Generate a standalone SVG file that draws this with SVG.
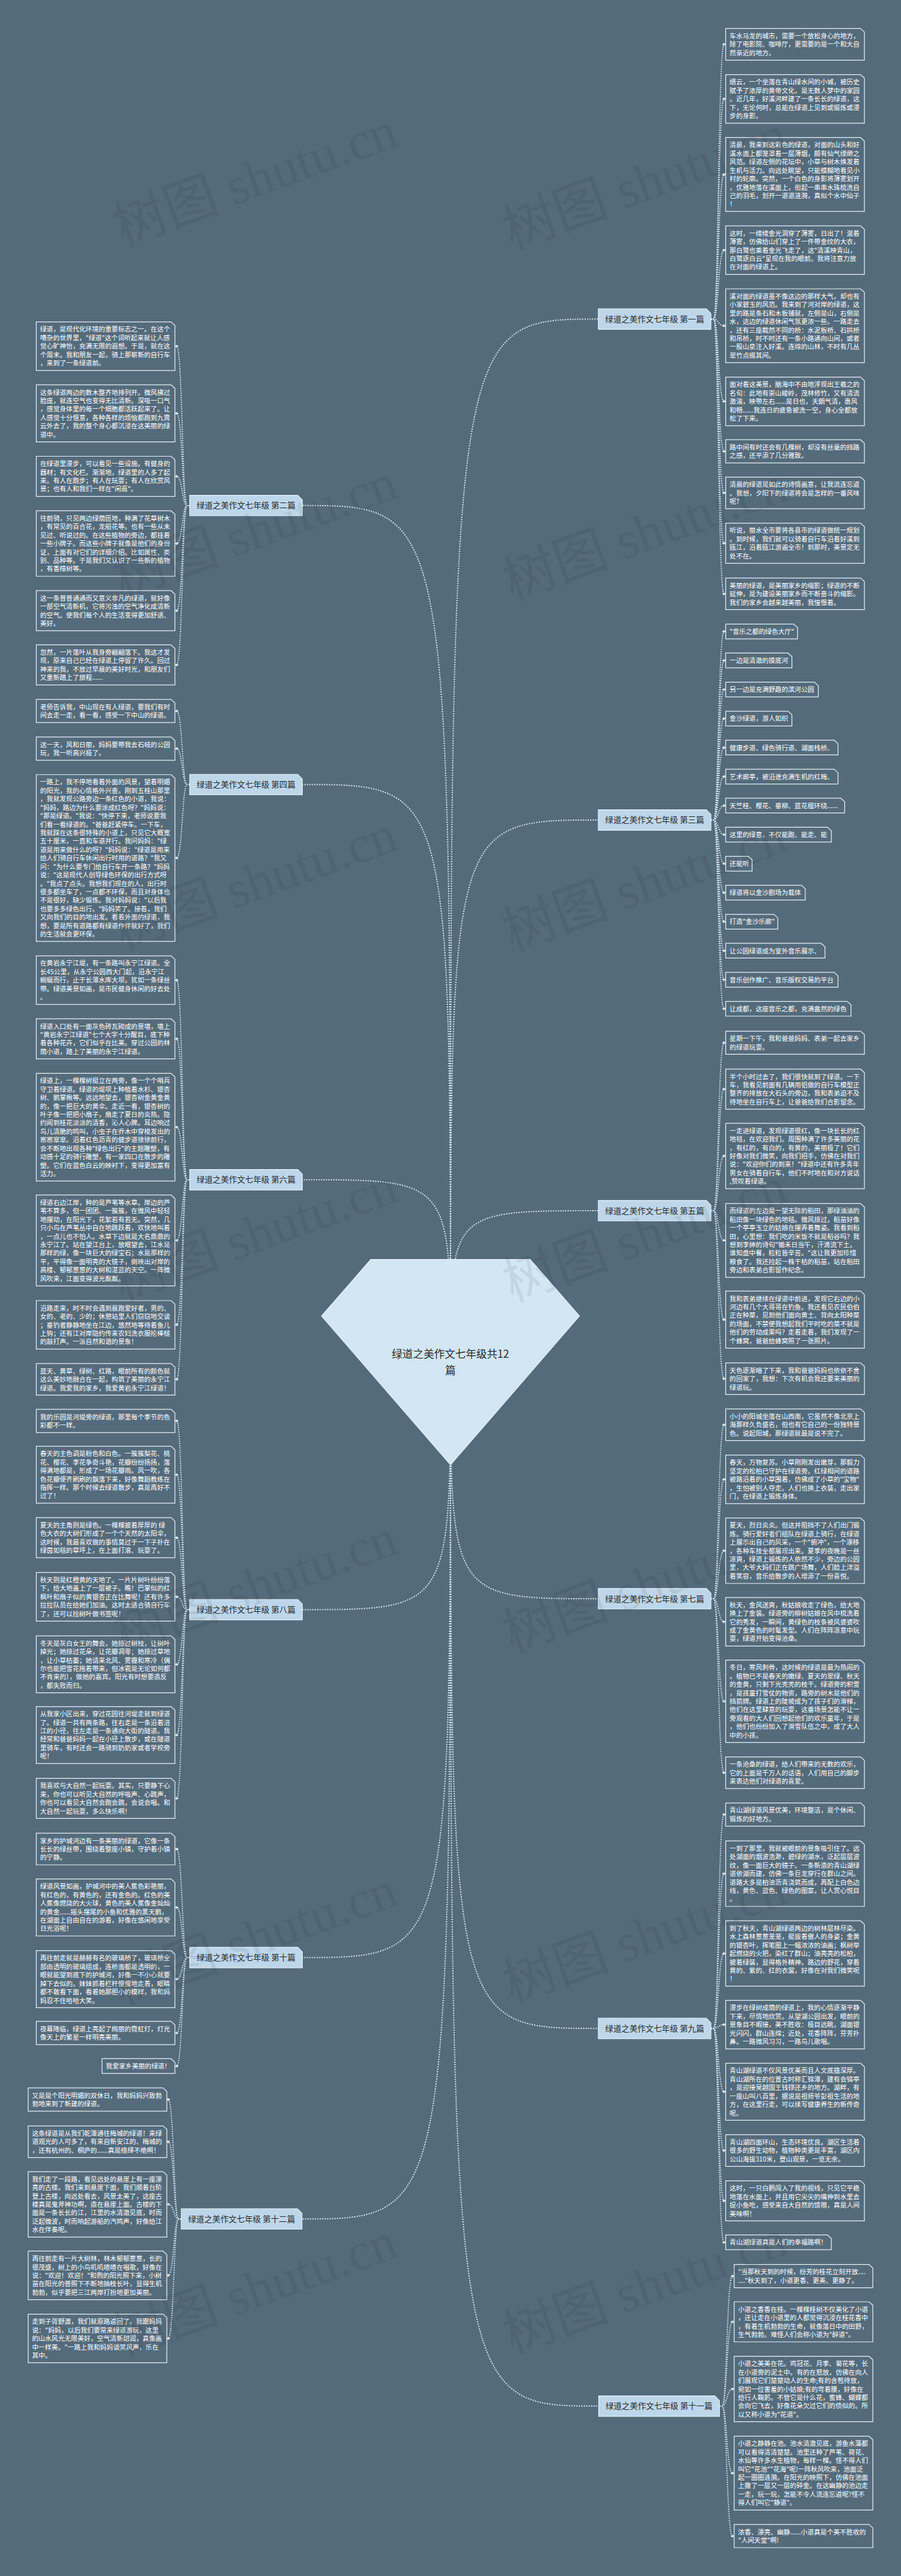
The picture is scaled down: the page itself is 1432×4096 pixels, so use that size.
<svg xmlns="http://www.w3.org/2000/svg" width="1432" height="4096" viewBox="0 0 1432 4096">
<defs>
<style>
.lf{fill:#546b7c;stroke:#e4edf3;stroke-width:2.2}
.t{font-family:"Noto Sans CJK SC","Noto Sans",sans-serif;font-size:18.5px;fill:#ffffff}
.br{fill:#bdd6ea;stroke:#e8f1f7;stroke-width:2}
.bt{font-family:"Noto Sans CJK SC","Noto Sans",sans-serif;font-size:23px;fill:#2a2a2a;text-anchor:middle}
.ck{fill:none;stroke:#d5e5f0;stroke-width:3.5;stroke-dasharray:3.5 3.5}
.lk{fill:none;stroke:#d5e5f0;stroke-width:3.2;stroke-dasharray:3.2 3.2;marker-end:url(#d)}
.wm{font-family:"Liberation Serif","Noto Sans CJK SC",serif;font-size:150px;fill:#000000;fill-opacity:0.065}
</style>
<marker id="d" markerUnits="userSpaceOnUse" markerWidth="12" markerHeight="10" refX="6" refY="5" orient="auto" viewBox="0 0 12 10"><path d="M0.5 5L6 1 11.5 5 6 9Z" fill="#dbe7ef"/></marker>
</defs>
<rect x="0" y="0" width="1432" height="4096" fill="#546b7c"/>
<g transform="scale(0.559375)">

<g id="connectors">
<path class="ck" d="M1280 3872C1280 907 1280 907 1700 907"/>
<path class="ck" d="M1280 3872C1280 2331 1280 2331 1700 2331"/>
<path class="ck" d="M1280 3872C1280 3441.5 1280 3441.5 1700 3441.5"/>
<path class="ck" d="M1280 3872C1280 4544.5 1280 4544.5 1700 4544.5"/>
<path class="ck" d="M1280 3872C1280 5766 1280 5766 1700 5766"/>
<path class="ck" d="M1280 3872C1280 6839.5 1280 6839.5 1701 6839.5"/>
<path class="ck" d="M1280 3872C1280 1437 1280 1437 859 1437"/>
<path class="ck" d="M1280 3872C1280 2230 1280 2230 859 2230"/>
<path class="ck" d="M1280 3872C1280 3353.5 1280 3353.5 859 3353.5"/>
<path class="ck" d="M1280 3872C1280 4575.5 1280 4575.5 859 4575.5"/>
<path class="ck" d="M1280 3872C1280 5564.5 1280 5564.5 859 5564.5"/>
<path class="ck" d="M1280 3872C1280 6307.5 1280 6307.5 858 6307.5"/>
<!-- sec1 -->
<path class="lk" d="M2020 907H2028C2041 907 2041 126 2057 126"/>
<path class="lk" d="M2020 907H2028C2041 907 2041 281 2057 281"/>
<path class="lk" d="M2020 907H2028C2041 907 2041 496 2057 496"/>
<path class="lk" d="M2020 907H2028C2041 907 2041 711 2057 711"/>
<path class="lk" d="M2020 907H2028C2041 907 2041 926 2057 926"/>
<path class="lk" d="M2020 907H2028C2041 907 2041 1141 2057 1141"/>
<path class="lk" d="M2020 907H2028C2041 907 2041 1283 2057 1283"/>
<path class="lk" d="M2020 907H2028C2041 907 2041 1401 2057 1401"/>
<path class="lk" d="M2020 907H2028C2041 907 2041 1544 2057 1544"/>
<path class="lk" d="M2020 907H2028C2041 907 2041 1688 2057 1688"/>
<!-- sec3 -->
<path class="lk" d="M2020 2331H2028C2041 2331 2041 1795 2057 1795"/>
<path class="lk" d="M2020 2331H2028C2041 2331 2041 1877.5 2057 1877.5"/>
<path class="lk" d="M2020 2331H2028C2041 2331 2041 1960 2057 1960"/>
<path class="lk" d="M2020 2331H2028C2041 2331 2041 2042.5 2057 2042.5"/>
<path class="lk" d="M2020 2331H2028C2041 2331 2041 2125 2057 2125"/>
<path class="lk" d="M2020 2331H2028C2041 2331 2041 2207.5 2057 2207.5"/>
<path class="lk" d="M2020 2331H2028C2041 2331 2041 2290 2057 2290"/>
<path class="lk" d="M2020 2331H2028C2041 2331 2041 2372.5 2057 2372.5"/>
<path class="lk" d="M2020 2331H2028C2041 2331 2041 2455 2057 2455"/>
<path class="lk" d="M2020 2331H2028C2041 2331 2041 2537.5 2057 2537.5"/>
<path class="lk" d="M2020 2331H2028C2041 2331 2041 2620 2057 2620"/>
<path class="lk" d="M2020 2331H2028C2041 2331 2041 2702.5 2057 2702.5"/>
<path class="lk" d="M2020 2331H2028C2041 2331 2041 2785 2057 2785"/>
<path class="lk" d="M2020 2331H2028C2041 2331 2041 2867.5 2057 2867.5"/>
<!-- sec5 -->
<path class="lk" d="M2020 3441.5H2028C2041 3441.5 2041 2964 2057 2964"/>
<path class="lk" d="M2020 3441.5H2028C2041 3441.5 2041 3096 2057 3096"/>
<path class="lk" d="M2020 3441.5H2028C2041 3441.5 2041 3286 2057 3286"/>
<path class="lk" d="M2020 3441.5H2028C2041 3441.5 2041 3526 2057 3526"/>
<path class="lk" d="M2020 3441.5H2028C2041 3441.5 2041 3751 2057 3751"/>
<path class="lk" d="M2020 3441.5H2028C2041 3441.5 2041 3919 2057 3919"/>
<!-- sec7 -->
<path class="lk" d="M2020 4544.5H2028C2041 4544.5 2041 4050 2057 4050"/>
<path class="lk" d="M2020 4544.5H2028C2041 4544.5 2041 4205 2057 4205"/>
<path class="lk" d="M2020 4544.5H2028C2041 4544.5 2041 4408 2057 4408"/>
<path class="lk" d="M2020 4544.5H2028C2041 4544.5 2041 4610 2057 4610"/>
<path class="lk" d="M2020 4544.5H2028C2041 4544.5 2041 4836 2057 4836"/>
<path class="lk" d="M2020 4544.5H2028C2041 4544.5 2041 5039 2057 5039"/>
<!-- sec9 -->
<path class="lk" d="M2020 5766H2028C2041 5766 2041 5158 2057 5158"/>
<path class="lk" d="M2020 5766H2028C2041 5766 2041 5326 2057 5326"/>
<path class="lk" d="M2020 5766H2028C2041 5766 2041 5553 2057 5553"/>
<path class="lk" d="M2020 5766H2028C2041 5766 2041 5755 2057 5755"/>
<path class="lk" d="M2020 5766H2028C2041 5766 2041 5946 2057 5946"/>
<path class="lk" d="M2020 5766H2028C2041 5766 2041 6113 2057 6113"/>
<path class="lk" d="M2020 5766H2028C2041 5766 2041 6256 2057 6256"/>
<path class="lk" d="M2020 5766H2028C2041 5766 2041 6374 2057 6374"/>
<!-- sec11 -->
<path class="lk" d="M2044 6839.5H2052C2065 6839.5 2065 6470 2081 6470"/>
<path class="lk" d="M2044 6839.5H2052C2065 6839.5 2065 6600 2081 6600"/>
<path class="lk" d="M2044 6839.5H2052C2065 6839.5 2065 6791 2081 6791"/>
<path class="lk" d="M2044 6839.5H2052C2065 6839.5 2065 7030 2081 7030"/>
<path class="lk" d="M2044 6839.5H2052C2065 6839.5 2065 7209 2081 7209"/>
<!-- sec2 -->
<path class="lk" d="M539 1437H531C518 1437 518 984 502 984"/>
<path class="lk" d="M539 1437H531C518 1437 518 1175 502 1175"/>
<path class="lk" d="M539 1437H531C518 1437 518 1354 502 1354"/>
<path class="lk" d="M539 1437H531C518 1437 518 1545 502 1545"/>
<path class="lk" d="M539 1437H531C518 1437 518 1736 502 1736"/>
<path class="lk" d="M539 1437H531C518 1437 518 1890 502 1890"/>
<!-- sec4 -->
<path class="lk" d="M539 2230H531C518 2230 518 2021 502 2021"/>
<path class="lk" d="M539 2230H531C518 2230 518 2128 502 2128"/>
<path class="lk" d="M539 2230H531C518 2230 518 2439 502 2439"/>
<!-- sec6 -->
<path class="lk" d="M539 3353.5H531C518 3353.5 518 2786 502 2786"/>
<path class="lk" d="M539 3353.5H531C518 3353.5 518 2953 502 2953"/>
<path class="lk" d="M539 3353.5H531C518 3353.5 518 3204 502 3204"/>
<path class="lk" d="M539 3353.5H531C518 3353.5 518 3526 502 3526"/>
<path class="lk" d="M539 3353.5H531C518 3353.5 518 3766 502 3766"/>
<path class="lk" d="M539 3353.5H531C518 3353.5 518 3921 502 3921"/>
<!-- sec8 -->
<path class="lk" d="M539 4575.5H531C518 4575.5 518 4039 502 4039"/>
<path class="lk" d="M539 4575.5H531C518 4575.5 518 4192 502 4192"/>
<path class="lk" d="M539 4575.5H531C518 4575.5 518 4371 502 4371"/>
<path class="lk" d="M539 4575.5H531C518 4575.5 518 4539 502 4539"/>
<path class="lk" d="M539 4575.5H531C518 4575.5 518 4731 502 4731"/>
<path class="lk" d="M539 4575.5H531C518 4575.5 518 4932 502 4932"/>
<path class="lk" d="M539 4575.5H531C518 4575.5 518 5112 502 5112"/>
<!-- sec10 -->
<path class="lk" d="M539 5564.5H531C518 5564.5 518 5256 502 5256"/>
<path class="lk" d="M539 5564.5H531C518 5564.5 518 5422 502 5422"/>
<path class="lk" d="M539 5564.5H531C518 5564.5 518 5626 502 5626"/>
<path class="lk" d="M539 5564.5H531C518 5564.5 518 5779 502 5779"/>
<path class="lk" d="M539 5564.5H531C518 5564.5 518 5873 502 5873"/>
<!-- sec12 -->
<path class="lk" d="M515 6307.5H507C494 6307.5 494 5968 478 5968"/>
<path class="lk" d="M515 6307.5H507C494 6307.5 494 6088 478 6088"/>
<path class="lk" d="M515 6307.5H507C494 6307.5 494 6266 478 6266"/>
<path class="lk" d="M515 6307.5H507C494 6307.5 494 6468 478 6468"/>
<path class="lk" d="M515 6307.5H507C494 6307.5 494 6647 478 6647"/>
</g>

<g id="center">
<path d="M1053.5 3580H1506.5L1646.5 3741L1280 4164L913.5 3741Z" fill="#d2e6f4" stroke="#eaf3fa" stroke-width="2"/>
<text class="bt" style="font-size:30px" x="1280" y="3860">绿道之美作文七年级共12</text>
<text class="bt" style="font-size:30px" x="1280" y="3906">篇</text>
</g>

<g id="b1"><path class="br" d="M1700 878H2007L2020 891V936H1700Z"/><text class="bt" x="1860" y="915">绿道之美作文七年级 第一篇</text></g>
<g id="b3"><path class="br" d="M1700 2302H2007L2020 2315V2360H1700Z"/><text class="bt" x="1860" y="2339">绿道之美作文七年级 第三篇</text></g>
<g id="b5"><path class="br" d="M1700 3412.5H2007L2020 3425.5V3470.5H1700Z"/><text class="bt" x="1860" y="3449.5">绿道之美作文七年级 第五篇</text></g>
<g id="b7"><path class="br" d="M1700 4515.5H2007L2020 4528.5V4573.5H1700Z"/><text class="bt" x="1860" y="4552.5">绿道之美作文七年级 第七篇</text></g>
<g id="b9"><path class="br" d="M1700 5737H2007L2020 5750V5795H1700Z"/><text class="bt" x="1860" y="5774">绿道之美作文七年级 第九篇</text></g>
<g id="b11"><path class="br" d="M1701 6810.5H2031L2044 6823.5V6868.5H1701Z"/><text class="bt" x="1872.5" y="6847.5">绿道之美作文七年级 第十一篇</text></g>
<g id="b2"><path class="br" d="M539 1408H846L859 1421V1466H539Z"/><text class="bt" x="699" y="1445">绿道之美作文七年级 第二篇</text></g>
<g id="b4"><path class="br" d="M539 2201H846L859 2214V2259H539Z"/><text class="bt" x="699" y="2238">绿道之美作文七年级 第四篇</text></g>
<g id="b6"><path class="br" d="M539 3324.5H846L859 3337.5V3382.5H539Z"/><text class="bt" x="699" y="3361.5">绿道之美作文七年级 第六篇</text></g>
<g id="b8"><path class="br" d="M539 4546.5H846L859 4559.5V4604.5H539Z"/><text class="bt" x="699" y="4583.5">绿道之美作文七年级 第八篇</text></g>
<g id="b10"><path class="br" d="M539 5535.5H846L859 5548.5V5593.5H539Z"/><text class="bt" x="699" y="5572.5">绿道之美作文七年级 第十篇</text></g>
<g id="b12"><path class="br" d="M515 6278.5H845L858 6291.5V6336.5H515Z"/><text class="bt" x="686.5" y="6315.5">绿道之美作文七年级 第十二篇</text></g>

<!-- Section 1 -->
<g id="s1a"><path class="lf" d="M2062 81H2445L2456 91V171H2062Z"/><text class="t" x="2073" y="109"><tspan>车水马龙的城市，需要一个放松身心的地方，</tspan><tspan x="2073" dy="24">除了电影院、咖啡厅，更需要的是一个和大自</tspan><tspan x="2073" dy="24">然亲近的地方。</tspan></text></g>
<g id="s1b"><path class="lf" d="M2062 212H2445L2456 222V350H2062Z"/><text class="t" x="2073" y="240"><tspan>缙云，一个坐落在青山绿水间的小城，被历史</tspan><tspan x="2073" dy="24">赋予了浓厚的黄帝文化，是无数人梦中的家园</tspan><tspan x="2073" dy="24">。近几年，好溪河畔建了一条长长的绿道，这</tspan><tspan x="2073" dy="24">下，无论何时，总能在绿道上见到或锻炼或漫</tspan><tspan x="2073" dy="24">步的身影。</tspan></text></g>
<g id="s1c"><path class="lf" d="M2062 391H2445L2456 401V601H2062Z"/><text class="t" x="2073" y="419"><tspan>清晨，我来到这彩色的绿道，对面的山头和好</tspan><tspan x="2073" dy="24">溪水面上都笼罩着一层薄烟，颇有仙气缥缈之</tspan><tspan x="2073" dy="24">风范。绿道左侧的花坛中，小草与树木焕发着</tspan><tspan x="2073" dy="24">生机与活力。向远处眺望，只能模糊地看见小</tspan><tspan x="2073" dy="24">村的轮廓。突然，一个白色的身影将薄雾划开</tspan><tspan x="2073" dy="24">，优雅地落在溪面上，衔起一串串水珠梳洗自</tspan><tspan x="2073" dy="24">己的羽毛，划开一道道涟漪，真似个水中仙子</tspan><tspan x="2073" dy="24">！</tspan></text></g>
<g id="s1d"><path class="lf" d="M2062 642H2445L2456 652V780H2062Z"/><text class="t" x="2073" y="670"><tspan>这时，一缕缕金光洞穿了薄雾，日出了！混着</tspan><tspan x="2073" dy="24">薄雾，仿佛给山们穿上了一件带金纹的大衣，</tspan><tspan x="2073" dy="24">那白鹭也乘着金光飞走了，这"清溪映青山，</tspan><tspan x="2073" dy="24">白鹭逐白云"呈现在我的眼前。我将注意力放</tspan><tspan x="2073" dy="24">在对面的绿道上。</tspan></text></g>
<g id="s1e"><path class="lf" d="M2062 821H2445L2456 831V1031H2062Z"/><text class="t" x="2073" y="849"><tspan>溪对面的绿道虽不像这边的那样大气，却也有</tspan><tspan x="2073" dy="24">小家碧玉的风范。我来到了河对岸的绿道，这</tspan><tspan x="2073" dy="24">里的路是条石和木板铺就，左侧是山，右侧是</tspan><tspan x="2073" dy="24">水，这边的绿道休闲气氛更浓一些。一路走去</tspan><tspan x="2073" dy="24">，还有三座截然不同的桥：水泥板桥、石拱桥</tspan><tspan x="2073" dy="24">和吊桥，时不时还有一条小路通向山间，或者</tspan><tspan x="2073" dy="24">一股山泉注入好溪。连绵的山林，不时有几丛</tspan><tspan x="2073" dy="24">翠竹点缀其间。</tspan></text></g>
<g id="s1f"><path class="lf" d="M2062 1072H2445L2456 1082V1210H2062Z"/><text class="t" x="2073" y="1100"><tspan>面对着这美景，脑海中不由地浮现出王羲之的</tspan><tspan x="2073" dy="24">名句：此地有崇山峻岭，茂林修竹，又有清流</tspan><tspan x="2073" dy="24">激湍，映带左右......是日也，天朗气清，惠风</tspan><tspan x="2073" dy="24">和畅......我连日的疲惫被洗一空，身心全都放</tspan><tspan x="2073" dy="24">松了下来。</tspan></text></g>
<g id="s1g"><path class="lf" d="M2062 1250H2445L2456 1260V1316H2062Z"/><text class="t" x="2073" y="1278"><tspan>路中间有时还会有几棵树，却没有丝毫的挡路</tspan><tspan x="2073" dy="24">之感，还平添了几分雅致。</tspan></text></g>
<g id="s1h"><path class="lf" d="M2062 1356H2445L2456 1366V1446H2062Z"/><text class="t" x="2073" y="1384"><tspan>清晨的绿道是如此的诗情画意，让我流连忘返</tspan><tspan x="2073" dy="24">。我想，夕阳下的绿道将会是怎样的一番风味</tspan><tspan x="2073" dy="24">呢?</tspan></text></g>
<g id="s1i"><path class="lf" d="M2062 1487H2445L2456 1497V1601H2062Z"/><text class="t" x="2073" y="1515"><tspan>听说，丽水全市要将各县市的绿道做统一规划</tspan><tspan x="2073" dy="24">。到时候，我们就可以骑着自行车沿着好溪到</tspan><tspan x="2073" dy="24">瓯江，沿着瓯江游遍全市！到那时，美景定无</tspan><tspan x="2073" dy="24">处不在。</tspan></text></g>
<g id="s1j"><path class="lf" d="M2062 1643H2445L2456 1653V1733H2062Z"/><text class="t" x="2073" y="1671"><tspan>美丽的绿道，是美丽家乡的缩影；绿道的不断</tspan><tspan x="2073" dy="24">延伸，是为建设美丽家乡而不断奋斗的缩影。</tspan><tspan x="2073" dy="24">我们的家乡会越来越美丽，我憧憬着。</tspan></text></g>

<!-- Section 3 -->
<g id="s3a"><path class="lf" d="M2062 1774H2255L2266 1784V1816H2062Z"/><text class="t" x="2073" y="1802">"音乐之都的绿色大厅"</text></g>
<g id="s3b"><path class="lf" d="M2062 1856.5H2239L2250 1866.5V1898.5H2062Z"/><text class="t" x="2073" y="1884.5">一边是清澈的摸底河</text></g>
<g id="s3c"><path class="lf" d="M2062 1939H2314L2325 1949V1981H2062Z"/><text class="t" x="2073" y="1967">另一边是充满野趣的滨河公园</text></g>
<g id="s3d"><path class="lf" d="M2062 2021.5H2239L2250 2031.5V2063.5H2062Z"/><text class="t" x="2073" y="2049.5">金沙绿道，游人如织</text></g>
<g id="s3e"><path class="lf" d="M2062 2104H2370L2381 2114V2146H2062Z"/><text class="t" x="2073" y="2132">健康步道、绿色骑行道、湖面栈桥、</text></g>
<g id="s3f"><path class="lf" d="M2062 2186.5H2370L2381 2196.5V2228.5H2062Z"/><text class="t" x="2073" y="2214.5">艺术廊亭，被沿途充满生机的红梅、</text></g>
<g id="s3g"><path class="lf" d="M2062 2269H2389L2400 2279V2311H2062Z"/><text class="t" x="2073" y="2297">天竺桂、樱花、垂柳、蓝花楹环绕......</text></g>
<g id="s3h"><path class="lf" d="M2062 2351.5H2351L2362 2361.5V2393.5H2062Z"/><text class="t" x="2073" y="2379.5">这里的绿意，不仅能跑、能走、能</text></g>
<g id="s3i"><path class="lf" d="M2062 2434H2126L2137 2444V2476H2062Z"/><text class="t" x="2073" y="2462">还能听</text></g>
<g id="s3j"><path class="lf" d="M2062 2516.5H2277L2288 2526.5V2558.5H2062Z"/><text class="t" x="2073" y="2544.5">绿道将以金沙剧场为载体</text></g>
<g id="s3k"><path class="lf" d="M2062 2599H2199L2210 2609V2641H2062Z"/><text class="t" x="2073" y="2627">打造"金沙乐廊"</text></g>
<g id="s3l"><path class="lf" d="M2062 2681.5H2333L2344 2691.5V2723.5H2062Z"/><text class="t" x="2073" y="2709.5">让公园绿道成为室外音乐展示、</text></g>
<g id="s3m"><path class="lf" d="M2062 2764H2370L2381 2774V2806H2062Z"/><text class="t" x="2073" y="2792">音乐创作推广、音乐版权交易的平台</text></g>
<g id="s3n"><path class="lf" d="M2062 2846.5H2407L2418 2856.5V2888.5H2062Z"/><text class="t" x="2073" y="2874.5">让成都，这座音乐之都，充满盎然的绿色</text></g>

<!-- Section 5 -->
<g id="s5a"><path class="lf" d="M2062 2931H2445L2456 2941V2997H2062Z"/><text class="t" x="2073" y="2959"><tspan>星期一下午，我和爸爸妈妈、表弟一起去家乡</tspan><tspan x="2073" dy="24">的绿道玩耍。</tspan></text></g>
<g id="s5b"><path class="lf" d="M2062 3039H2445L2456 3049V3153H2062Z"/><text class="t" x="2073" y="3067"><tspan>半个小时过去了，我们很快就到了绿道。一下</tspan><tspan x="2073" dy="24">车，我看见前面有几辆用铝做的自行车模型正</tspan><tspan x="2073" dy="24">整齐的排放在大石头的旁边，我和表弟迫不及</tspan><tspan x="2073" dy="24">待地坐在自行车上，让爸爸给我们合影留念。</tspan></text></g>
<g id="s5c"><path class="lf" d="M2062 3193H2445L2456 3203V3379H2062Z"/><text class="t" x="2073" y="3221"><tspan>一走进绿道，发现绿道很红，像一块长长的红</tspan><tspan x="2073" dy="24">地毯，在欢迎我们。周围种满了许多美丽的花</tspan><tspan x="2073" dy="24">，有红的，有白的，有黄的，美丽极了！它们</tspan><tspan x="2073" dy="24">好像对我们微笑，向我们招手，仿佛在对我们</tspan><tspan x="2073" dy="24">说："欢迎你们的到来！"绿道中还有许多青年</tspan><tspan x="2073" dy="24">男女在骑着自行车，他们不时地在和对方说话</tspan><tspan x="2073" dy="24">,赞叹着绿道。</tspan></text></g>
<g id="s5d"><path class="lf" d="M2062 3421H2445L2456 3431V3631H2062Z"/><text class="t" x="2073" y="3449"><tspan>而绿道的左边是一望无际的稻田，那绿油油的</tspan><tspan x="2073" dy="24">稻田像一块绿色的地毯。微风掠过，稻苗好像</tspan><tspan x="2073" dy="24">一个亭亭玉立的姑娘在摆弄着舞姿。我看到稻</tspan><tspan x="2073" dy="24">田，心里想：我们吃的米饭不就是稻谷吗？我</tspan><tspan x="2073" dy="24">想到李绅的诗句"锄禾日当午，汗滴流下土。</tspan><tspan x="2073" dy="24">谁知盘中餐，粒粒皆辛苦。"这让我更加珍惜</tspan><tspan x="2073" dy="24">粮食了。我还捡起一株干枯的稻苗，站在稻田</tspan><tspan x="2073" dy="24">旁边和表弟合影留作纪念。</tspan></text></g>
<g id="s5e"><path class="lf" d="M2062 3670H2445L2456 3680V3832H2062Z"/><text class="t" x="2073" y="3698"><tspan>我和表弟继续在绿道中前进，发现它右边的小</tspan><tspan x="2073" dy="24">河边有几个大哥哥在钓鱼。我还看见农民伯伯</tspan><tspan x="2073" dy="24">正在种菜，见到他们面向黄土、背向太阳种菜</tspan><tspan x="2073" dy="24">的场面，不禁使我想起我们平时吃的菜不就是</tspan><tspan x="2073" dy="24">他们的劳动成果吗？走着走着，我们发现了一</tspan><tspan x="2073" dy="24">个蜂窝，爸爸给蜂窝照了一张照片。</tspan></text></g>
<g id="s5f"><path class="lf" d="M2062 3874H2445L2456 3884V3964H2062Z"/><text class="t" x="2073" y="3902"><tspan>天色逐渐暗了下来，我和爸爸妈妈也依依不舍</tspan><tspan x="2073" dy="24">的回家了，我想：下次有机会我还要来美丽的</tspan><tspan x="2073" dy="24">绿道玩。</tspan></text></g>

<!-- Section 7 -->
<g id="s7a"><path class="lf" d="M2062 4005H2445L2456 4015V4095H2062Z"/><text class="t" x="2073" y="4033"><tspan>小小的阳城坐落在山西南，它虽然不像北京上</tspan><tspan x="2073" dy="24">海那样久负盛名，但也有它自己的一份独特景</tspan><tspan x="2073" dy="24">色。说起阳城，那绿道就最是说不完了。</tspan></text></g>
<g id="s7b"><path class="lf" d="M2062 4136H2445L2456 4146V4274H2062Z"/><text class="t" x="2073" y="4164"><tspan>春天，万物复苏。小草刚刚发出嫩芽，那毅力</tspan><tspan x="2073" dy="24">坚定的松柏已守护在绿道旁。红绿相间的道路</tspan><tspan x="2073" dy="24">被路沿着的小草围着，仿佛成了小草的"宝物"</tspan><tspan x="2073" dy="24">，生怕被别人夺走。人们也换上衣装，走出家</tspan><tspan x="2073" dy="24">门，在绿道上锻炼身体。</tspan></text></g>
<g id="s7c"><path class="lf" d="M2062 4315H2445L2456 4325V4501H2062Z"/><text class="t" x="2073" y="4343"><tspan>夏天，烈日炎炎。但这并阻挡不了人们出门锻</tspan><tspan x="2073" dy="24">炼。骑行爱好者们组队在绿道上骑行，在绿道</tspan><tspan x="2073" dy="24">上展示出自己的风采，一个"俯冲"，一个漂移</tspan><tspan x="2073" dy="24">，各种车技全都展现出来。夏季的夜晚是一丝</tspan><tspan x="2073" dy="24">凉爽，绿道上锻炼的人依然不少，旁边的公园</tspan><tspan x="2073" dy="24">里，大爷大妈们正在跳广场舞，人们脸上洋溢</tspan><tspan x="2073" dy="24">着笑容，音乐给散步的人增添了一份喜悦。</tspan></text></g>
<g id="s7d"><path class="lf" d="M2062 4541H2445L2456 4551V4679H2062Z"/><text class="t" x="2073" y="4569"><tspan>秋天，金风送爽，秋姑娘收走了绿色，给大地</tspan><tspan x="2073" dy="24">换上了金装。绿道旁的柳树姑娘在风中梳洗着</tspan><tspan x="2073" dy="24">它的秀发，一瞬间，黄绿色的枝条被风婆婆吹</tspan><tspan x="2073" dy="24">成了金黄色的时髦发型。人们在阵阵凉意中玩</tspan><tspan x="2073" dy="24">耍，绿道开始变得沧桑。</tspan></text></g>
<g id="s7e"><path class="lf" d="M2062 4719H2445L2456 4729V4953H2062Z"/><text class="t" x="2073" y="4747"><tspan>冬日，寒风刺骨，这时候的绿道是最为热闹的</tspan><tspan x="2073" dy="24">。植物已不是春天的嫩绿、夏天的翠绿、秋天</tspan><tspan x="2073" dy="24">的金黄，只剩下光秃秃的枝干。绿道旁的积雪</tspan><tspan x="2073" dy="24">，是孩童打雪仗的物资，路旁的树木是他们的</tspan><tspan x="2073" dy="24">挡箭牌。绿道上的陡坡成为了孩子们的滑梯，</tspan><tspan x="2073" dy="24">他们在这里肆意的玩耍，这番场景怎能不让一</tspan><tspan x="2073" dy="24">旁观看的大人们回想起他们的欢乐童年，于是</tspan><tspan x="2073" dy="24">，他们也纷纷加入了滑雪队伍之中，成了大人</tspan><tspan x="2073" dy="24">中的小孩。</tspan></text></g>
<g id="s7f"><path class="lf" d="M2062 4994H2445L2456 5004V5084H2062Z"/><text class="t" x="2073" y="5022"><tspan>一条沧桑的绿道，给人们带来的无数的欢乐，</tspan><tspan x="2073" dy="24">它的上面是千万人的话语，人们用自己的脚步</tspan><tspan x="2073" dy="24">来表达他们对绿道的喜爱。</tspan></text></g>

<!-- Section 9 -->
<g id="s9a"><path class="lf" d="M2062 5125H2445L2456 5135V5191H2062Z"/><text class="t" x="2073" y="5153"><tspan>青山湖绿道风景优美，环境整洁，是个休闲、</tspan><tspan x="2073" dy="24">锻炼的好地方。</tspan></text></g>
<g id="s9b"><path class="lf" d="M2062 5233H2445L2456 5243V5419H2062Z"/><text class="t" x="2073" y="5261"><tspan>一到了那里，我就被眼前的景象吸引住了。远</tspan><tspan x="2073" dy="24">处湖面的烟波浩渺，碧绿的湖水，泛起层层波</tspan><tspan x="2073" dy="24">纹，像一面巨大的镜子。一条新造的青山湖绿</tspan><tspan x="2073" dy="24">道依湖而建，仿佛一条巨龙穿行在群山之间。</tspan><tspan x="2073" dy="24">道路大多是柏油沥青浇筑而成，再配上白色边</tspan><tspan x="2073" dy="24">线，黄色、蓝色、绿色的图案，让人赏心悦目</tspan><tspan x="2073" dy="24">。</tspan></text></g>
<g id="s9c"><path class="lf" d="M2062 5460H2445L2456 5470V5646H2062Z"/><text class="t" x="2073" y="5488"><tspan>到了秋天，青山湖绿道两边的树林层林尽染。</tspan><tspan x="2073" dy="24">水上森林葱葱茏茏，挺拔着傲人的身姿；金黄</tspan><tspan x="2073" dy="24">的银杏叶，挥笔图上一幅浓浓的油画；枫树举</tspan><tspan x="2073" dy="24">起燃烧的火把，染红了群山；油亮亮的松柏，</tspan><tspan x="2073" dy="24">披着绿装，显得格外精神。路边的野花，穿着</tspan><tspan x="2073" dy="24">黄的、紫的、红的衣裳，好像在对我们微笑呢</tspan><tspan x="2073" dy="24">！</tspan></text></g>
<g id="s9d"><path class="lf" d="M2062 5686H2445L2456 5696V5824H2062Z"/><text class="t" x="2073" y="5714"><tspan>漫步在绿树成荫的绿道上，我的心情逐渐平静</tspan><tspan x="2073" dy="24">下来，尽情地欣赏。从望湖公园出发，眼前的</tspan><tspan x="2073" dy="24">景象目不暇接，美不胜收：极目远眺，湖面银</tspan><tspan x="2073" dy="24">光闪闪，群山连绵；近处，花香阵阵，芬芳扑</tspan><tspan x="2073" dy="24">鼻。一路微风习习，一路鸟儿歌唱。</tspan></text></g>
<g id="s9e"><path class="lf" d="M2062 5865H2445L2456 5875V6027H2062Z"/><text class="t" x="2073" y="5893"><tspan>青山湖绿道不仅风景优美而且人文底蕴深厚。</tspan><tspan x="2073" dy="24">青山湖所在的位置古时称汇锦潭，建有会锦亭</tspan><tspan x="2073" dy="24">，是迎接吴越国王钱镠还乡的地方。湖畔，有</tspan><tspan x="2073" dy="24">一座山叫八百里，据说是祖师爷彭祖生活的地</tspan><tspan x="2073" dy="24">方，在这里行走，可以续写健康养生的新传奇</tspan><tspan x="2073" dy="24">呢。</tspan></text></g>
<g id="s9f"><path class="lf" d="M2062 6068H2445L2456 6078V6158H2062Z"/><text class="t" x="2073" y="6096"><tspan>青山湖四面环山，生态环境优良。湖区生活着</tspan><tspan x="2073" dy="24">很多的野生动物，植物种类更是丰富，湖区内</tspan><tspan x="2073" dy="24">公山海拔310米，登山观景，一览无余。</tspan></text></g>
<g id="s9g"><path class="lf" d="M2062 6199H2445L2456 6209V6313H2062Z"/><text class="t" x="2073" y="6227"><tspan>这时，一只白鹳闯入了我的视线，只见它平稳</tspan><tspan x="2073" dy="24">地落在水面上，并且用它尖尖的嘴伸到水里去</tspan><tspan x="2073" dy="24">捉小鱼吃，感受来自大自然的馈赠，真是人间</tspan><tspan x="2073" dy="24">美味啊！</tspan></text></g>
<g id="s9h"><path class="lf" d="M2062 6353H2351L2362 6363V6395H2062Z"/><text class="t" x="2073" y="6381">青山湖绿道真是人们的幸福路啊！</text></g>

<!-- Section 11 -->
<g id="s11a"><path class="lf" d="M2086 6437H2469L2480 6447V6503H2086Z"/><text class="t" x="2097" y="6465"><tspan>"当那秋天到的时候，纷芳的桂花立刻开放....</tspan><tspan x="2097" dy="24">...."秋天到了，小道更香、更美、更静了。</tspan></text></g>
<g id="s11b"><path class="lf" d="M2086 6543H2469L2480 6553V6657H2086Z"/><text class="t" x="2097" y="6571"><tspan>小道之香香在桂。一棵棵桂树不仅美化了小道</tspan><tspan x="2097" dy="24">，还让走在小道里的人都觉得沉浸在桂花香中</tspan><tspan x="2097" dy="24">，有着生机勃勃的生命，就像落日中的田野，</tspan><tspan x="2097" dy="24">生气勃勃。难怪人们会称小道为"醉道"。</tspan></text></g>
<g id="s11c"><path class="lf" d="M2086 6698H2469L2480 6708V6884H2086Z"/><text class="t" x="2097" y="6726"><tspan>小道之美美在花。鸡冠花、月季、菊花等，长</tspan><tspan x="2097" dy="24">在小道旁的泥土中。有的在怒放，仿佛在向人</tspan><tspan x="2097" dy="24">们展现它们楚楚动人的生命;有的含苞待放，</tspan><tspan x="2097" dy="24">宛如一位害羞的小姑娘;有的弯着腰，好像在</tspan><tspan x="2097" dy="24">给行人鞠躬。不管它是什么花，蜜蜂、蝴蝶都</tspan><tspan x="2097" dy="24">会向它飞去，好像花朵欠过它们的债似的。所</tspan><tspan x="2097" dy="24">以又称小道为"花道"。</tspan></text></g>
<g id="s11d"><path class="lf" d="M2086 6925H2469L2480 6935V7135H2086Z"/><text class="t" x="2097" y="6953"><tspan>小道之静静在池。池水清澈见底，游鱼水藻都</tspan><tspan x="2097" dy="24">可以看得清清楚楚。池里还种了芦苇、荷花、</tspan><tspan x="2097" dy="24">水仙等许多水生植物，每样一棵。怪不得人们</tspan><tspan x="2097" dy="24">叫它"花池""花海"呢!一阵秋风吹来，池面泛</tspan><tspan x="2097" dy="24">起一圈圈涟漪。在阳光的映照下，仿佛在池面</tspan><tspan x="2097" dy="24">上撒了一层又一层的碎金。在这幽静的池边走</tspan><tspan x="2097" dy="24">一走，玩一玩，怎能不令人流连忘返呢?怪不</tspan><tspan x="2097" dy="24">得人们叫它"静道"。</tspan></text></g>
<g id="s11e"><path class="lf" d="M2086 7176H2469L2480 7186V7242H2086Z"/><text class="t" x="2097" y="7204"><tspan>浓香、漂亮、幽静......小道真是个美不胜收的</tspan><tspan x="2097" dy="24">"人间天堂"啊!</tspan></text></g>

<!-- Section 2 -->
<g id="s2a"><path class="lf" d="M103 915H486L497 925V1053H103Z"/><text class="t" x="114" y="943"><tspan>绿道，是现代化环境的重要标志之一。在这个</tspan><tspan x="114" dy="24">嘈杂的世界里，"绿道"这个词听起来就让人感</tspan><tspan x="114" dy="24">觉心旷神怡，充满无限的遐想。于是，就在这</tspan><tspan x="114" dy="24">个周末。我和朋友一起，骑上那崭新的自行车</tspan><tspan x="114" dy="24">，来到了一条绿道前。</tspan></text></g>
<g id="s2b"><path class="lf" d="M103 1094H486L497 1104V1256H103Z"/><text class="t" x="114" y="1122"><tspan>这条绿道两边的数木整齐地排列开。微风拂过</tspan><tspan x="114" dy="24">脸庞，就连空气也变得无比清新。深吸一口气</tspan><tspan x="114" dy="24">，感觉身体里的每一个细胞都活跃起来了。让</tspan><tspan x="114" dy="24">人感觉十分惬意，各种各样的烦恼都跑到九霄</tspan><tspan x="114" dy="24">云外去了，我的整个身心都沉浸在这美丽的绿</tspan><tspan x="114" dy="24">道中。</tspan></text></g>
<g id="s2c"><path class="lf" d="M103 1297H486L497 1307V1411H103Z"/><text class="t" x="114" y="1325"><tspan>在绿道里漫步，可以看见一些设施。有健身的</tspan><tspan x="114" dy="24">器材；有文化栏。渐渐地，绿道里的人多了起</tspan><tspan x="114" dy="24">来。有人在跑步；有人在玩耍；有人在欣赏风</tspan><tspan x="114" dy="24">景；也有人和我们一样在"闲逛"。</tspan></text></g>
<g id="s2d"><path class="lf" d="M103 1452H486L497 1462V1638H103Z"/><text class="t" x="114" y="1480"><tspan>往前骑，只见两边绿荫匝地，种满了花草树木</tspan><tspan x="114" dy="24">，有常见的百合花，龙船花等。也有一些从未</tspan><tspan x="114" dy="24">见过、听说过的。在这些植物的旁边，都挂着</tspan><tspan x="114" dy="24">一些小牌子。而这些小牌子就像是他们的身份</tspan><tspan x="114" dy="24">证，上面有对它们的详细介绍。比如属性、类</tspan><tspan x="114" dy="24">别、品种等。于是我们又认识了一些新的植物</tspan><tspan x="114" dy="24">，有香樟树等。</tspan></text></g>
<g id="s2e"><path class="lf" d="M103 1679H486L497 1689V1793H103Z"/><text class="t" x="114" y="1707"><tspan>这一条普普通通而又意义非凡的绿道，就好像</tspan><tspan x="114" dy="24">一部空气清新机，它将污浊的空气净化成清新</tspan><tspan x="114" dy="24">的空气。使我们每个人的生活变得更加舒适、</tspan><tspan x="114" dy="24">美好。</tspan></text></g>
<g id="s2f"><path class="lf" d="M103 1833H486L497 1843V1947H103Z"/><text class="t" x="114" y="1861"><tspan>忽然，一片落叶从我身旁翩翩落下。我这才发</tspan><tspan x="114" dy="24">现，原来自己已经在绿道上停留了许久。回过</tspan><tspan x="114" dy="24">神来的我，不放过早晨的美好时光，和朋友们</tspan><tspan x="114" dy="24">又重新踏上了旅程......</tspan></text></g>

<!-- Section 4 -->
<g id="s4a"><path class="lf" d="M103 1988H486L497 1998V2054H103Z"/><text class="t" x="114" y="2016"><tspan>老师告诉我，中山现在有人绿道，要我们有时</tspan><tspan x="114" dy="24">间去走一走，看一看，感受一下中山的绿道。</tspan></text></g>
<g id="s4b"><path class="lf" d="M103 2095H486L497 2105V2161H103Z"/><text class="t" x="114" y="2123"><tspan>这一天，风和日丽，妈妈要带我去石岐的公园</tspan><tspan x="114" dy="24">玩，我一听高兴极了。</tspan></text></g>
<g id="s4c"><path class="lf" d="M103 2202H486L497 2212V2676H103Z"/><text class="t" x="114" y="2230"><tspan>一路上，我不停地看着外面的风景，望着明媚</tspan><tspan x="114" dy="24">的阳光，我的心情格外兴奋。刚到五桂山那里</tspan><tspan x="114" dy="24">，我就发现公路旁边一条红色的小道，我说：</tspan><tspan x="114" dy="24">"妈妈，路边为什么要涂成红色呀？"妈妈说：</tspan><tspan x="114" dy="24">"那是绿道。"我说："快停下来，老师说要我</tspan><tspan x="114" dy="24">们看一看绿道的。"爸爸赶紧停车。一下车，</tspan><tspan x="114" dy="24">我就踩在这条很特殊的小道上，只见它大概宽</tspan><tspan x="114" dy="24">五十厘米，一直和车道并行。我问妈妈："绿</tspan><tspan x="114" dy="24">道是用来做什么的呀？"妈妈说："绿道是用来</tspan><tspan x="114" dy="24">给人们骑自行车休闲出行时用的道路？"我又</tspan><tspan x="114" dy="24">问："为什么要专门给自行车开一条路？"妈妈</tspan><tspan x="114" dy="24">说："这是现代人创导绿色环保的出行方式呀</tspan><tspan x="114" dy="24">。"我点了点头。我想我们现在的人，出行时</tspan><tspan x="114" dy="24">很多都坐车了，一点都不环保，而且对身体也</tspan><tspan x="114" dy="24">不是很好，缺少锻炼。我对妈妈说："以后我</tspan><tspan x="114" dy="24">也要多多绿色出行。"妈妈笑了。接着，我们</tspan><tspan x="114" dy="24">又向我们的目的地出发。看着外面的绿道，我</tspan><tspan x="114" dy="24">想，要是所有道路都有绿道作伴就好了，我们</tspan><tspan x="114" dy="24">的生活就会更环保。</tspan></text></g>

<!-- Section 6 -->
<g id="s6a"><path class="lf" d="M103 2717H486L497 2727V2855H103Z"/><text class="t" x="114" y="2745"><tspan>在黄岩永宁江堤，有一条路叫永宁江绿道。全</tspan><tspan x="114" dy="24">长45公里，从永宁公园西大门起，沿永宁江</tspan><tspan x="114" dy="24">蜿蜒而行，止于长潭水库大坝，犹如一条绿丝</tspan><tspan x="114" dy="24">带。绿道美景如画，是市民健身休闲的好去处</tspan><tspan x="114" dy="24">。</tspan></text></g>
<g id="s6b"><path class="lf" d="M103 2896H486L497 2906V3010H103Z"/><text class="t" x="114" y="2924"><tspan>绿道入口处有一面灰色砖瓦砌成的景墙，墙上</tspan><tspan x="114" dy="24">"黄岩永宁江绿道"七个大字十分醒目，底下种</tspan><tspan x="114" dy="24">着各种花卉，它们似乎在比美。穿过公园的林</tspan><tspan x="114" dy="24">荫小道，踏上了美丽的永宁江绿道。</tspan></text></g>
<g id="s6c"><path class="lf" d="M103 3051H486L497 3061V3357H103Z"/><text class="t" x="114" y="3079"><tspan>绿道上，一棵棵树挺立在两旁，像一个个哨兵</tspan><tspan x="114" dy="24">守卫着绿道。绿道的堤坝上种植着水杉、银杏</tspan><tspan x="114" dy="24">树、鹅掌楸等。远远地望去，银杏树金黄金黄</tspan><tspan x="114" dy="24">的，像一把巨大的黄伞。走近一看，银杏树的</tspan><tspan x="114" dy="24">叶子像一把把小扇子，扇走了夏日的炎热。隐</tspan><tspan x="114" dy="24">约闻到桂花淡淡的清香，沁人心脾。耳边响过</tspan><tspan x="114" dy="24">鸟儿清脆的鸣叫，小虫子在乔木中穿梭发出的</tspan><tspan x="114" dy="24">窸窸窣窣。沿着红色沥青的健步道徐徐前行，</tspan><tspan x="114" dy="24">会不断地出现各种"绿色出行"的主题雕塑，有</tspan><tspan x="114" dy="24">动感十足的骑行雕塑，有一家四口在散步的雕</tspan><tspan x="114" dy="24">塑。它们在蓝色白云的映衬下，变得更加富有</tspan><tspan x="114" dy="24">活力。</tspan></text></g>
<g id="s6d"><path class="lf" d="M103 3397H486L497 3407V3655H103Z"/><text class="t" x="114" y="3425"><tspan>绿道右边江岸，种的是芦苇等水草。岸边的芦</tspan><tspan x="114" dy="24">苇不算多，但一团团、一簇簇，在微风中轻轻</tspan><tspan x="114" dy="24">地摆动，在阳光下，花絮若有若无。突然，几</tspan><tspan x="114" dy="24">只小鸟在芦苇丛中自在地跳跃着，欢快地叫着</tspan><tspan x="114" dy="24">，一点儿也不怕人。水草下边就是大名鼎鼎的</tspan><tspan x="114" dy="24">永宁江了。站在望江台上，放眼望去，江水是</tspan><tspan x="114" dy="24">那样的绿，像一块巨大的绿宝石；水是那样的</tspan><tspan x="114" dy="24">平，平得像一面明亮的大镜子，倒映出对岸的</tspan><tspan x="114" dy="24">高楼、郁郁葱葱的大树和湛蓝的天空。一阵微</tspan><tspan x="114" dy="24">风吹来，江面变得波光粼粼。</tspan></text></g>
<g id="s6e"><path class="lf" d="M103 3697H486L497 3707V3835H103Z"/><text class="t" x="114" y="3725"><tspan>沿路走来，时不时会遇到晨跑爱好者，男的、</tspan><tspan x="114" dy="24">女的、老的、少的；休憩站里人们窃窃地交谈</tspan><tspan x="114" dy="24">；垂钓者静静地坐在江边，悠然地等待着鱼儿</tspan><tspan x="114" dy="24">上钩；还有江对岸隐约传来农妇洗衣服抡棒槌</tspan><tspan x="114" dy="24">的敲打声。一派自然和谐的景象！</tspan></text></g>
<g id="s6f"><path class="lf" d="M103 3876H486L497 3886V3966H103Z"/><text class="t" x="114" y="3904"><tspan>蓝天、黄草、绿树、红路，眼前所有的颜色就</tspan><tspan x="114" dy="24">这么美妙地融合在一起，构筑了美丽的永宁江</tspan><tspan x="114" dy="24">绿道。我爱我的家乡，我爱黄岩永宁江绿道！</tspan></text></g>

<!-- Section 8 -->
<g id="s8a"><path class="lf" d="M103 4006H486L497 4016V4072H103Z"/><text class="t" x="114" y="4034"><tspan>我的乐园是河堤旁的绿道，那里每个季节的色</tspan><tspan x="114" dy="24">彩都不一样。</tspan></text></g>
<g id="s8b"><path class="lf" d="M103 4111H486L497 4121V4273H103Z"/><text class="t" x="114" y="4139"><tspan>春天的主色调是粉色和白色。一簇簇梨花、桃</tspan><tspan x="114" dy="24">花、樱花、李花争奇斗艳，花瓣纷纷扬扬，落</tspan><tspan x="114" dy="24">得满地都是，形成了一场花瓣雨。风一吹，各</tspan><tspan x="114" dy="24">色花瓣便齐刷刷的飘落下来，好像舞蹈教练在</tspan><tspan x="114" dy="24">指挥一样。那个时候去绿道散步，真是再好不</tspan><tspan x="114" dy="24">过了！</tspan></text></g>
<g id="s8c"><path class="lf" d="M103 4314H486L497 4324V4428H103Z"/><text class="t" x="114" y="4342"><tspan>夏天的主角则是绿色。一棵棵披着厚厚的 绿</tspan><tspan x="114" dy="24">色大衣的大树们形成了一个个天然的太阳伞，</tspan><tspan x="114" dy="24">这时候，我最喜欢做的事情莫过于一下子扑在</tspan><tspan x="114" dy="24">绿茵如毯的草坪上，在上面打滚、玩耍了。</tspan></text></g>
<g id="s8d"><path class="lf" d="M103 4470H486L497 4480V4608H103Z"/><text class="t" x="114" y="4498"><tspan>秋天则是红橙黄的天地了。一片片树叶纷纷落</tspan><tspan x="114" dy="24">下，给大地盖上了一层被子。瞧！巴掌似的红</tspan><tspan x="114" dy="24">枫叶和扇子似的黄银杏正在比舞呢！还有许多</tspan><tspan x="114" dy="24">拉拉队员在给她们加油。这时太适合骑自行车</tspan><tspan x="114" dy="24">了，还可以捡树叶做书签呢！</tspan></text></g>
<g id="s8e"><path class="lf" d="M103 4650H486L497 4660V4812H103Z"/><text class="t" x="114" y="4678"><tspan>冬天是灰白女王的舞会，她掠过树枝，让树叶</tspan><tspan x="114" dy="24">掉光；她掠过花朵，让花瓣凋零；她掠过草地</tspan><tspan x="114" dy="24">，让小草枯萎；她请来北风、雾霾和寒冷（偶</tspan><tspan x="114" dy="24">尔也能把雪花拖着带来，但冰雹是无论如何都</tspan><tspan x="114" dy="24">不肯来的），做她的嘉宾。阳光有时想要造反</tspan><tspan x="114" dy="24">，都失败而归。</tspan></text></g>
<g id="s8f"><path class="lf" d="M103 4851H486L497 4861V5013H103Z"/><text class="t" x="114" y="4879"><tspan>从我家小区出来，穿过花园往河堤走就到绿道</tspan><tspan x="114" dy="24">了。绿道一共有两条路，往右走是一条沿着涪</tspan><tspan x="114" dy="24">江的小径，往左走是一条通向大街的隧道。我</tspan><tspan x="114" dy="24">经常和爸爸妈妈一起在小径上散步，或在隧道</tspan><tspan x="114" dy="24">里骑车，有时还会一路骑到奶奶家或者学校旁</tspan><tspan x="114" dy="24">呢！</tspan></text></g>
<g id="s8g"><path class="lf" d="M103 5055H486L497 5065V5169H103Z"/><text class="t" x="114" y="5083"><tspan>我喜欢与大自然一起玩耍。其实，只要静下心</tspan><tspan x="114" dy="24">来，你也可以听见大自然的呼吸声、心跳声，</tspan><tspan x="114" dy="24">你也可以看见大自然会跑会跳，会说会唱。和</tspan><tspan x="114" dy="24">大自然一起玩耍，多么快乐啊！</tspan></text></g>

<!-- Section 10 -->
<g id="s10a"><path class="lf" d="M103 5211H486L497 5221V5301H103Z"/><text class="t" x="114" y="5239"><tspan>家乡的护城河边有一条美丽的绿道，它像一条</tspan><tspan x="114" dy="24">长长的绿丝带，围绕着整座小镇，守护着小镇</tspan><tspan x="114" dy="24">的宁静。</tspan></text></g>
<g id="s10b"><path class="lf" d="M103 5341H486L497 5351V5503H103Z"/><text class="t" x="114" y="5369"><tspan>绿道风景如画，护城河中的美人蕉色彩艳丽，</tspan><tspan x="114" dy="24">有红色的，有黄色的，还有金色的。红色的美</tspan><tspan x="114" dy="24">人蕉像燃烧的大火球，黄色的美人蕉像金灿灿</tspan><tspan x="114" dy="24">的黄金......摇头摆尾的小鱼和优雅的黑天鹅，</tspan><tspan x="114" dy="24">在湖面上自由自在的游着，好像在悠闲地享受</tspan><tspan x="114" dy="24">日光浴呢！</tspan></text></g>
<g id="s10c"><path class="lf" d="M103 5545H486L497 5555V5707H103Z"/><text class="t" x="114" y="5573"><tspan>再往前走就是赫赫有名的玻璃桥了，玻璃桥全</tspan><tspan x="114" dy="24">部由透明的玻璃组成，连桥面都是透明的，一</tspan><tspan x="114" dy="24">眼就能望到底下的护城河，好像一不小心就要</tspan><tspan x="114" dy="24">掉下去似的。妹妹抓着栏杆慢慢地走着，眼睛</tspan><tspan x="114" dy="24">都不敢看下面，看着她那胆小的模样，我和妈</tspan><tspan x="114" dy="24">妈忍不住哈哈大笑。</tspan></text></g>
<g id="s10d"><path class="lf" d="M103 5746H486L497 5756V5812H103Z"/><text class="t" x="114" y="5774"><tspan>夜幕降临，绿道上亮起了绚丽的霓虹灯，灯光</tspan><tspan x="114" dy="24">像天上的繁星一样明亮美丽。</tspan></text></g>
<g id="s10e"><path class="lf" d="M290 5852H486L497 5862V5894H290Z"/><text class="t" x="301" y="5880">我爱家乡美丽的绿道！</text></g>

<!-- Section 12 -->
<g id="s12a"><path class="lf" d="M80 5935H463L474 5945V6001H80Z"/><text class="t" x="91" y="5963"><tspan>又是是个阳光明媚的双休日，我和妈妈兴致勃</tspan><tspan x="91" dy="24">勃地来到了新建的绿道。</tspan></text></g>
<g id="s12b"><path class="lf" d="M80 6043H463L474 6053V6133H80Z"/><text class="t" x="91" y="6071"><tspan>这条绿道是从我们乾潭通往梅城的绿道！来绿</tspan><tspan x="91" dy="24">道观光的人可多了，有来自新安江的、梅城的</tspan><tspan x="91" dy="24">，还有杭州的、桐庐的......真是络绎不绝啊！</tspan></text></g>
<g id="s12c"><path class="lf" d="M80 6173H463L474 6183V6359H80Z"/><text class="t" x="91" y="6201"><tspan>我们走了一段路，看见远处的悬崖上有一座漂</tspan><tspan x="91" dy="24">亮的古楼。我们来到悬崖下面，我们顺着台阶</tspan><tspan x="91" dy="24">登上古楼，向远处看去，风景太美了，这座古</tspan><tspan x="91" dy="24">楼真是鬼斧神功啊，造在悬崖上面。古楼的下</tspan><tspan x="91" dy="24">面是一条长长的江，江里的水清澈见底，时而</tspan><tspan x="91" dy="24">泛起微波，时而响起游船的汽鸣声，好像给江</tspan><tspan x="91" dy="24">水在伴奏呢。</tspan></text></g>
<g id="s12d"><path class="lf" d="M80 6399H463L474 6409V6537H80Z"/><text class="t" x="91" y="6427"><tspan>再往前走有一片大树林，林木郁郁葱葱，长的</tspan><tspan x="91" dy="24">很茂盛，树上的小鸟叽叽喳喳在唱歌，好像在</tspan><tspan x="91" dy="24">说："欢迎！欢迎！"和煦的阳光照下来，小树</tspan><tspan x="91" dy="24">苗在阳光的普照下不断地抽枝长叶，显得生机</tspan><tspan x="91" dy="24">勃勃，似乎要把三江两岸打扮地更加美丽。</tspan></text></g>
<g id="s12e"><path class="lf" d="M80 6578H463L474 6588V6716H80Z"/><text class="t" x="91" y="6606"><tspan>走到子胥野渡，我们就原路返回了。我跟妈妈</tspan><tspan x="91" dy="24">说："妈妈，以后我们要常来绿道游玩，这里</tspan><tspan x="91" dy="24">的山水风光无限美好，空气清新甜润，真像画</tspan><tspan x="91" dy="24">中一样美。"一路上我和妈妈谈笑风声，乐在</tspan><tspan x="91" dy="24">其中。</tspan></text></g>

<g id="watermarks">
<text class="wm" x="347" y="700" transform="rotate(-20 347 700)">树图 shutu.cn</text>
<text class="wm" x="347" y="1700" transform="rotate(-20 347 1700)">树图 shutu.cn</text>
<text class="wm" x="347" y="2700" transform="rotate(-20 347 2700)">树图 shutu.cn</text>
<text class="wm" x="347" y="3700" transform="rotate(-20 347 3700)">树图 shutu.cn</text>
<text class="wm" x="347" y="4700" transform="rotate(-20 347 4700)">树图 shutu.cn</text>
<text class="wm" x="347" y="5700" transform="rotate(-20 347 5700)">树图 shutu.cn</text>
<text class="wm" x="347" y="6700" transform="rotate(-20 347 6700)">树图 shutu.cn</text>
<text class="wm" x="1454" y="710" transform="rotate(-20 1454 710)">树图 shutu.cn</text>
<text class="wm" x="1454" y="1707" transform="rotate(-20 1454 1707)">树图 shutu.cn</text>
<text class="wm" x="1454" y="2704" transform="rotate(-20 1454 2704)">树图 shutu.cn</text>
<text class="wm" x="1454" y="3701" transform="rotate(-20 1454 3701)">树图 shutu.cn</text>
<text class="wm" x="1454" y="4698" transform="rotate(-20 1454 4698)">树图 shutu.cn</text>
<text class="wm" x="1454" y="5695" transform="rotate(-20 1454 5695)">树图 shutu.cn</text>
<text class="wm" x="1454" y="6692" transform="rotate(-20 1454 6692)">树图 shutu.cn</text>
</g>
</g>
</svg>
